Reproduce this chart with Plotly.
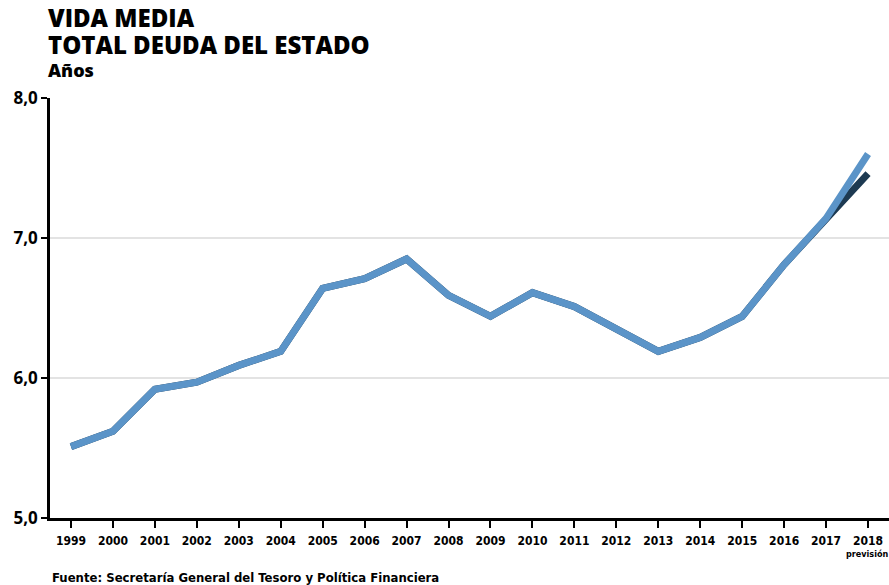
import plotly.graph_objects as go

years = [str(y) for y in range(1999, 2019)]
vida_media = [5.51, 5.62, 5.92, 5.97, 6.09, 6.19, 6.64, 6.71, 6.85, 6.59,
              6.44, 6.61, 6.51, 6.35, 6.19, 6.29, 6.44, 6.81, 7.14, 7.60]
vida_media_alt = [5.51, 5.62, 5.92, 5.97, 6.09, 6.19, 6.64, 6.71, 6.85, 6.59,
                  6.44, 6.61, 6.51, 6.35, 6.19, 6.29, 6.44, 6.81, 7.14, 7.46]
y_ticks = [5.0, 6.0, 7.0, 8.0]
grid_vals = [6.0, 7.0]

narrow = "DejaVu Sans Condensed, Liberation Sans Narrow, sans-serif"
title_font = "Open Sans, sans-serif"

fig = go.Figure()
fig.add_trace(go.Scatter(x=years, y=vida_media_alt, mode="lines",
                         line=dict(color="#1d3a52", width=7), hoverinfo="skip"))
fig.add_trace(go.Scatter(x=years, y=vida_media, mode="lines",
                         line=dict(color="#5b94c8", width=7), hoverinfo="skip"))

for g in grid_vals:
    fig.add_shape(type="line", xref="paper", yref="y", x0=0, x1=1, y0=g, y1=g,
                  line=dict(color="#c8c8c8", width=1.2), layer="below")

fig.update_layout(
    width=889, height=585,
    margin=dict(l=50, r=0, t=98, b=67),
    plot_bgcolor="white", paper_bgcolor="white",
    showlegend=False,
    separators=",.",
    font=dict(family=title_font, color="black"),
    xaxis=dict(
        type="category", tickvals=years, ticktext=years,
        range=[-0.5, len(years) - 0.5],
        tickangle=0, automargin=False, ticklabelstandoff=3,
        showgrid=False, showline=True, linecolor="black", linewidth=2.5,
        ticks="outside", ticklen=7, tickwidth=1.8, tickcolor="black",
        tickfont=dict(family=narrow, size=12, color="black", weight="bold"),
        fixedrange=True,
    ),
    yaxis=dict(
        range=[5.0, 8.0], tickvals=y_ticks, tickformat=".1f", automargin=False,
        showgrid=False, showline=True, linecolor="black", linewidth=2.5,
        ticks="outside", ticklen=6, tickwidth=1.8, tickcolor="black",
        zeroline=False,
        tickfont=dict(family=title_font, size=17, color="black", weight="bold"),
        fixedrange=True,
    ),
)

def top_text(text, size, yshift):
    fig.add_annotation(xref="paper", yref="paper", x=0, y=1, xshift=-3, yshift=yshift,
                       xanchor="left", yanchor="top", showarrow=False, align="left",
                       text=text, borderpad=0,
                       font=dict(family=title_font, size=size, color="black", weight=800))

top_text("VIDA MEDIA", 24, 98)
top_text("TOTAL DEUDA DEL ESTADO", 24, 71)
top_text("Años", 18, 41)

fig.add_annotation(xref="paper", yref="paper", x=1, y=0, xshift=0, yshift=-30,
                   xanchor="right", yanchor="top", showarrow=False, borderpad=0,
                   text="<b>previsión</b>",
                   font=dict(family=narrow, size=9, color="black"))

fig.add_annotation(xref="paper", yref="paper", x=0, y=0, xshift=0, yshift=-50,
                   xanchor="left", yanchor="top", showarrow=False, align="left",
                   text="<b>Fuente: Secretaría General del Tesoro y Política Financiera</b>",
                   font=dict(family=narrow, size=13, color="black"))

fig.write_html("out.html", config={"displayModeBar": False},
               post_script="document.body.style.margin='0';")
